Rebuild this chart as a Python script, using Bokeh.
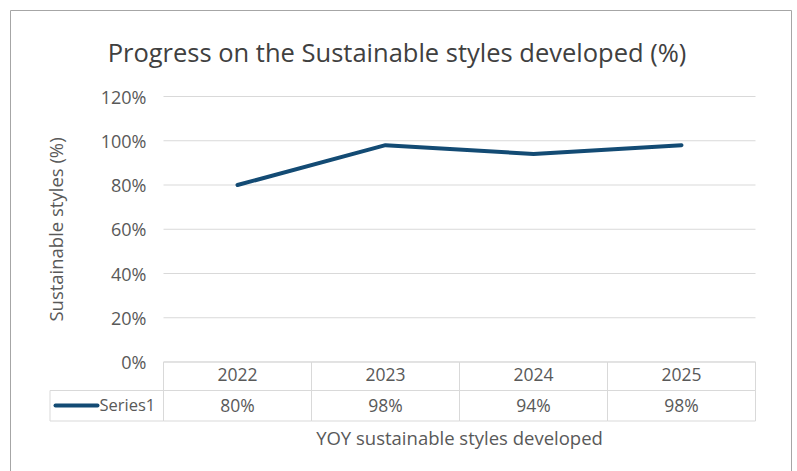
from bokeh.plotting import figure
from bokeh.models import Range1d, FixedTicker, PrintfTickFormatter, LinearAxis, ColumnDataSource
from bokeh.core.properties import value
from bokeh.embed import file_html
from bokeh.resources import INLINE

# ---- data ----
years = ["2022", "2023", "2024", "2025"]
values = [80, 98, 94, 98]
y_ticks = [0, 20, 40, 60, 80, 100, 120]
series_name = "Series1"
title_text = "Progress on the Sustainable styles developed (%)"
y_label = "Sustainable styles (%)"
x_label = "YOY sustainable styles developed"

FONT = "Open Sans"
TXT = "#595959"
GRID = "#d9d9d9"
LINE = "#134b74"

# ---- layout (canvas pixels) ----
W, H = 797, 471
PL, PR = 163, 755            # plot area left / right
PT, PB = 96, 361.5           # 120% and 0% lines
n = len(years)
ppx = (PR - PL) / n          # px per category
ppy = (PB - PT) / 120        # px per percent


def X(px):
    return (px - PL) / ppx


def Y(py):
    return (PB - py) / ppy


row1 = Y(390)                # header / values boundary
row2 = Y(420.5)              # table bottom

p = figure(width=W, height=H, output_backend="svg", toolbar_location=None,
           x_range=Range1d(X(0), X(W)), y_range=Range1d(Y(H), Y(0)),
           min_border=0, x_axis_type=None, y_axis_type=None)
p.outline_line_color = None
p.background_fill_color = "white"
p.border_fill_color = "white"
p.grid.visible = False

xs = [i + 0.5 for i in range(n)]

# outer chart border
p.quad(left=[X(10)], right=[X(791)], top=[Y(10)], bottom=[Y(H + 20)],
       fill_color=None, line_color="#a6a6a6", line_width=1)

# horizontal gridlines (plot area only)
p.segment(x0=[0] * len(y_ticks), x1=[n] * len(y_ticks), y0=y_ticks, y1=y_ticks,
          line_color=GRID, line_width=1)

# title
p.text(x=[X(W / 2 - 2)], y=[Y(51)], text=[title_text], text_align="center",
       text_baseline="middle", text_font=value(FONT), text_font_size="25.5px",
       text_color="#404040")

# y axis inside the canvas
ya = LinearAxis(fixed_location=0, ticker=FixedTicker(ticks=y_ticks),
                formatter=PrintfTickFormatter(format="%d%%"), bounds=(0, 120))
ya.axis_line_color = None
ya.major_tick_line_color = None
ya.minor_tick_line_color = None
ya.major_label_standoff = 11
ya.major_label_text_font = FONT
ya.major_label_text_font_size = "18px"
ya.major_label_text_color = TXT
ya.axis_label = y_label
ya.axis_label_text_font = FONT
ya.axis_label_text_font_size = "18.5px"
ya.axis_label_text_font_style = "normal"
ya.axis_label_text_color = TXT
ya.axis_label_standoff = 30
p.add_layout(ya, "left")

# data table cells
cells = ColumnDataSource(dict(left=list(range(n)), right=[i + 1 for i in range(n)]))
p.quad(left="left", right="right", top=0, bottom=row1, source=cells,
       fill_color=None, line_color=GRID, line_width=1)
p.quad(left="left", right="right", top=row1, bottom=row2, source=cells,
       fill_color=None, line_color=GRID, line_width=1)
p.quad(left=[X(49.5)], right=[0], top=[row1], bottom=[row2],
       fill_color=None, line_color=GRID, line_width=1)

# x axis = table header row (category labels) + axis title
xa = LinearAxis(fixed_location=0, ticker=FixedTicker(ticks=xs),
                major_label_overrides={x: yr for x, yr in zip(xs, years)},
                bounds=(0, n))
xa.axis_line_color = None
xa.major_tick_line_color = None
xa.minor_tick_line_color = None
xa.major_label_standoff = 0
xa.major_label_text_font = FONT
xa.major_label_text_font_size = "17.5px"
xa.major_label_text_color = TXT
xa.axis_label = x_label
xa.axis_label_text_font = FONT
xa.axis_label_text_font_size = "18.5px"
xa.axis_label_text_font_style = "normal"
xa.axis_label_text_color = TXT
xa.axis_label_standoff = 40
p.add_layout(xa, "below")

# values row
p.text(x=xs, y=[Y(404)] * n, text=[f"{v}%" for v in values],
       text_align="center", text_baseline="middle",
       text_font=value(FONT), text_font_size="17.5px", text_color=TXT)

# legend key in the table
p.segment(x0=[X(55)], x1=[X(97)], y0=[Y(405)], y1=[Y(405)],
          line_color=LINE, line_width=4, line_cap="round")
p.text(x=[X(99)], y=[Y(404)], text=[series_name], text_align="left",
       text_baseline="middle", text_font=value(FONT), text_font_size="16.5px",
       text_color=TXT)

# series line
p.line(x=xs, y=values, line_color=LINE, line_width=4, line_join="round", line_cap="round")

open("out.html", "w").write(file_html(p, INLINE))
